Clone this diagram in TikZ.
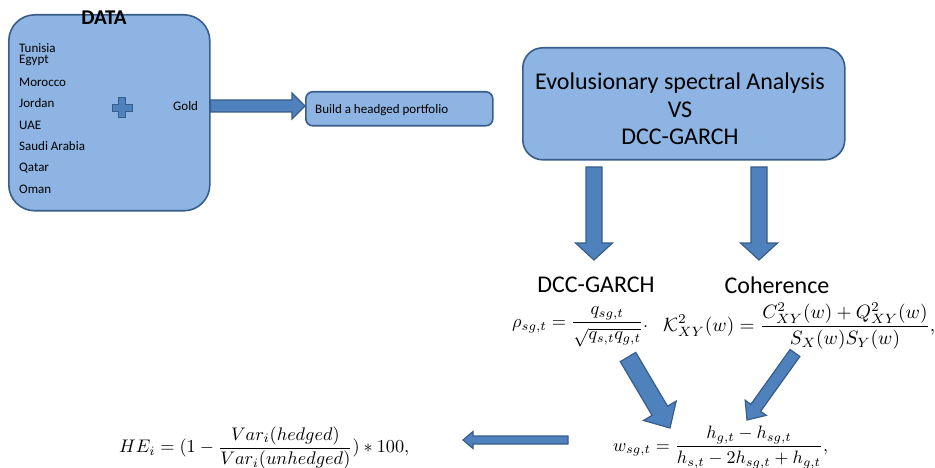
\documentclass[tikz,border=0pt]{standalone}
\usepackage{fontspec}
\setmainfont{Carlito}
\usepackage{graphicx}
\usetikzlibrary{calc}
\definecolor{boxfill}{HTML}{8DB4E2}
\definecolor{bdr}{HTML}{385D8A}
\definecolor{arrfill}{HTML}{4F81BD}
\tikzset{
  box/.style={draw=bdr, fill=boxfill, line width=1.6pt, inner sep=0pt},
  small/.style={font=\fontsize{13}{15}\selectfont, inner sep=0pt, anchor=west},
  big/.style={font=\fontsize{24}{27.5}\selectfont, inner sep=0pt, align=center},
  formula/.style={inner sep=0pt, anchor=west},
  barrow/.style={draw=bdr, fill=arrfill, line width=1.2pt, line join=miter}
}
% #1 from, #2 to, #3 shaft half width, #4 head half width, #5 head length
\newcommand\blockarrow[5]{%
  \draw[barrow] let \p1=(#1), \p2=(#2),
    \n1={atan2(\y2-\y1,\x2-\x1)}, \n2={veclen(\x2-\x1,\y2-\y1)} in
    [shift={(\p1)}, rotate=\n1]
    (0pt,-#3) -- (\n2-#5,-#3) -- (\n2-#5,-#4) -- (\n2,0pt) --
    (\n2-#5,#4) -- (\n2-#5,#3) -- (0pt,#3) -- cycle;}
\begin{document}
\begin{tikzpicture}[x=1pt,y=-1pt]
\useasboundingbox (0,0) rectangle (935,468);
% DATA box
\node[box, rounded corners=26pt, minimum width=201pt, minimum height=196pt, anchor=north west] (data) at (8,14) {};
\node[font=\fontsize{21}{24}\selectfont\bfseries, inner sep=0pt] (datat) at (104,18) {DATA};
\node[small] (tun) at (19,48) {Tunisia};
\node[small] (egy) at (19,60) {Egypt};
\node[small] (mor) at (19,82) {Morocco};
\node[small] (jor) at (19,103) {Jordan};
\node[small] (uae) at (19,125) {UAE};
\node[small] (sau) at (19,146) {Saudi Arabia};
\node[small] (qat) at (19,168) {Qatar};
\node[small] (oma) at (19,189) {Oman};
\node[small] (gold) at (173,106) {Gold};
% plus sign
\draw[draw=bdr, fill=arrfill, line width=1pt]
  (118.5,98) -- (125.5,98) -- (125.5,104.5) -- (132,104.5) -- (132,111.5) -- (125.5,111.5)
  -- (125.5,118) -- (118.5,118) -- (118.5,111.5) -- (112,111.5) -- (112,104.5) -- (118.5,104.5) -- cycle;
% Build box
\node[box, rounded corners=7pt, minimum width=187pt, minimum height=34pt, anchor=north west] (build) at (305,91) {};
\node[small] (buildt) at (315,110) {Build a headged portfolio};
% Big box
\node[box, rounded corners=20pt, minimum width=322pt, minimum height=112pt, anchor=north west] (esa) at (522,47) {};
\node[big] (esat) at (680,109) {Evolusionary spectral Analysis\\VS\\DCC-GARCH};
% labels
\node[big] (dcc) at (596,285) {DCC-GARCH};
\node[big] (coh) at (777,285) {Coherence};
% formulas
\node[formula] (rho) at (512,327) {\resizebox{136pt}{!}{$\displaystyle \rho_{sg,t}=\frac{q_{sg,t}}{\sqrt{q_{s,t}q_{g,t}}}.$}};
\node[formula] (coher) at (663,326) {\resizebox{272pt}{!}{$\displaystyle \mathcal{K}^2_{XY}(w)=\frac{C^2_{XY}(w)+Q^2_{XY}(w)}{S_X(w)S_Y(w)},$}};
\node[formula] (wsg) at (613,447.5) {\resizebox{215pt}{!}{$\displaystyle w_{sg,t}=\frac{h_{g,t}-h_{sg,t}}{h_{s,t}-2h_{sg,t}+h_{g,t}},$}};
\node[formula] (he) at (119,448) {\resizebox{290pt}{!}{$\displaystyle HE_i=(1-\frac{Var_i(hedged)}{Var_i(unhedged)})*100,$}};
% arrow end coordinates
\coordinate (d1s) at (594,167);
\coordinate (d1e) at (594,260);
\coordinate (d2s) at (759,167);
\coordinate (d2e) at (759,260);
\coordinate (l1s) at (628,357);
\coordinate (l1e) at (670,428);
\coordinate (r1s) at (795,353);
\coordinate (r1e) at (747,420);
\coordinate (hs) at (568,440);
\coordinate (he_) at (463,440);
% arrows
\blockarrow{data.east |- gold}{build.west |- gold}{6pt}{13pt}{13pt}
\blockarrow{d1s}{d1e}{8pt}{18.5pt}{17pt}
\blockarrow{d2s}{d2e}{8pt}{18.5pt}{17pt}
\blockarrow{l1s}{l1e}{9pt}{19pt}{20pt}
\blockarrow{r1s}{r1e}{6pt}{13pt}{15pt}
\blockarrow{hs}{he_}{4pt}{8.5pt}{10pt}
\end{tikzpicture}
\end{document}
